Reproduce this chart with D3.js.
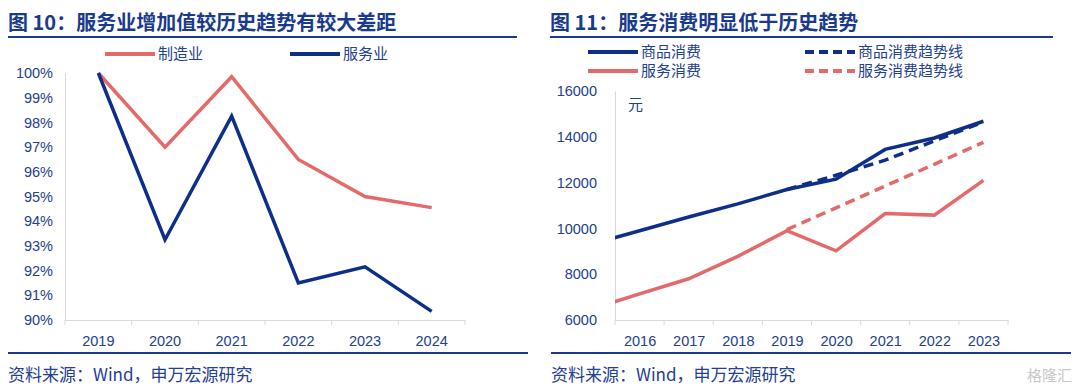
<!DOCTYPE html>
<meta charset="utf-8">
<style>
body { margin: 0; background: #fff; }
svg { display: block; font-family: "Liberation Sans", Arial, sans-serif; }
.title { font-family: "Noto Sans CJK SC", sans-serif; font-weight: 700; font-size: 20px; fill: #1a3a8c; }
.foot { font-family: "Noto Sans CJK SC", sans-serif; font-size: 17px; fill: #24408e; }
.leg { font-family: "Noto Sans CJK SC", sans-serif; font-size: 15px; fill: #24408e; }
.axis text { font-size: 14.5px; fill: #24408e; }
.axis path, .axis line { stroke: #d9d9d9; }
</style>
<svg width="1080" height="391"></svg>
<script src="https://cdn.jsdelivr.net/npm/d3@7"></script>
<script>

// 图10
var years1 = ["2019", "2020", "2021", "2022", "2023", "2024"];
var manu = [100, 97.0, 99.85, 96.5, 95.0, 94.55];
var serv = [100, 93.25, 98.25, 91.5, 92.15, 90.35];
var pctTicks = [90, 91, 92, 93, 94, 95, 96, 97, 98, 99, 100];

// 图11
var years2 = [2015, 2016, 2017, 2018, 2019, 2020, 2021, 2022, 2023];
var goods = [9300, 9900, 10500, 11070, 11700, 12150, 13450, 13950, 14680];
var services = [6460, 7140, 7800, 8780, 9900, 9020, 10650, 10580, 12100];
var trendYears = [2019, 2020, 2021, 2022, 2023];
var goodsTrend = [11700, 12320, 12980, 13820, 14650];
var servTrend = [9950, 10900, 11850, 12800, 13760];
var yTicks2 = [6000, 8000, 10000, 12000, 14000, 16000];

var blue = "#0d2f8a", red = "#e46a6a", navy = "#1a3a8c";

var svg = d3.select("svg");

function header(x0, x1, title) {
  svg.append("text").attr("class", "title").attr("x", x0).attr("y", 30).text(title);
  svg.append("line").attr("x1", x0).attr("x2", x1).attr("y1", 37).attr("y2", 37)
      .attr("stroke", navy).attr("stroke-width", 2);
}
function footer(x0, x1) {
  svg.append("line").attr("x1", x0).attr("x2", x1).attr("y1", 353).attr("y2", 353)
      .attr("stroke", navy).attr("stroke-width", 2);
  svg.append("text").attr("class", "foot").attr("x", x0).attr("y", 381).text("资料来源：Wind，申万宏源研究");
}
function legItem(x, y, color, dashed, label) {
  svg.append("line").attr("x1", x).attr("x2", x + 50).attr("y1", y).attr("y2", y)
      .attr("stroke", color).attr("stroke-width", 4)
      .attr("stroke-dasharray", dashed ? "9,5" : null);
  svg.append("text").attr("class", "leg").attr("x", x + 53).attr("y", y + 5).text(label);
}

header(8, 517, "图 10：服务业增加值较历史趋势有较大差距");
header(550, 1053, "图 11：服务消费明显低于历史趋势");
footer(8, 528);
footer(551, 1071);

// ---- left chart
var x1 = d3.scaleBand().domain(years1).range([65, 465]);
var y1 = d3.scaleLinear().domain([90, 100]).range([320, 73]);

svg.append("g").attr("class", "axis").attr("transform", "translate(65,0)")
    .call(d3.axisLeft(y1).tickValues(pctTicks).tickSize(0).tickPadding(12).tickFormat(function(d) { return d + "%"; }))
    .call(function(g) { g.select(".domain").attr("stroke", "#d9d9d9"); });

var xa1 = svg.append("g").attr("class", "axis").attr("transform", "translate(0,320)")
    .call(d3.axisBottom(x1).tickSize(0).tickPadding(16));
xa1.selectAll(".tb").data(d3.range(years1.length + 1)).enter().append("line")
    .attr("x1", function(i) { return 65 + i * x1.step(); })
    .attr("x2", function(i) { return 65 + i * x1.step(); })
    .attr("y1", 0).attr("y2", 5).attr("stroke", "#d9d9d9");

var line1 = d3.line()
    .x(function(d, i) { return x1(years1[i]) + x1.bandwidth() / 2; })
    .y(function(d) { return y1(d); });

svg.append("path").datum(manu).attr("d", line1).attr("fill", "none")
    .attr("stroke", red).attr("stroke-width", 3.5);
svg.append("path").datum(serv).attr("d", line1).attr("fill", "none")
    .attr("stroke", blue).attr("stroke-width", 3.5);

legItem(105, 54, red, false, "制造业");
legItem(290, 54, blue, false, "服务业");

// ---- right chart
var x2 = d3.scaleLinear().domain([2015.5, 2023.5]).range([615, 1008]);
var y2 = d3.scaleLinear().domain([6000, 16000]).range([320, 91]);

svg.append("defs").append("clipPath").attr("id", "clip2")
  .append("rect").attr("x", 615).attr("y", 60).attr("width", 400).attr("height", 270);

svg.append("g").attr("class", "axis").attr("transform", "translate(615,0)")
    .call(d3.axisLeft(y2).tickValues(yTicks2).tickSize(0).tickPadding(18).tickFormat(d3.format("d")))
    .call(function(g) { g.select(".domain").attr("stroke", "#d9d9d9"); });

var xa2 = svg.append("g").attr("class", "axis").attr("transform", "translate(0,320)")
    .call(d3.axisBottom(x2).tickValues(years2.slice(1)).tickSize(0).tickPadding(16).tickFormat(d3.format("d")));
xa2.selectAll(".tb").data(d3.range(2015.5, 2024, 1)).enter().append("line")
    .attr("x1", function(d) { return x2(d); }).attr("x2", function(d) { return x2(d); })
    .attr("y1", 0).attr("y2", 5).attr("stroke", "#d9d9d9");

svg.append("text").attr("class", "leg").attr("x", 628).attr("y", 110).text("元");

var plot = svg.append("g").attr("clip-path", "url(#clip2)");

function addLine(xs, ys, color, dashed) {
  var ln = d3.line().x(function(d, i) { return x2(xs[i]); }).y(function(d) { return y2(d); });
  plot.append("path").datum(ys).attr("d", ln).attr("fill", "none")
      .attr("stroke", color).attr("stroke-width", 3.5)
      .attr("stroke-dasharray", dashed ? "10,6" : null);
}
addLine(years2, services, red, false);
addLine(trendYears, servTrend, red, true);
addLine(years2, goods, blue, false);
addLine(trendYears, goodsTrend, blue, true);

legItem(588, 52, blue, false, "商品消费");
legItem(588, 71, red, false, "服务消费");
legItem(805, 52, blue, true, "商品消费趋势线");
legItem(805, 71, red, true, "服务消费趋势线");

// watermark
svg.append("text").attr("x", 1072).attr("y", 381).attr("text-anchor", "end")
    .attr("font-family", "Noto Sans CJK SC").attr("font-size", 15).attr("fill", "#c8c8c8")
    .text("格隆汇");

</script>
